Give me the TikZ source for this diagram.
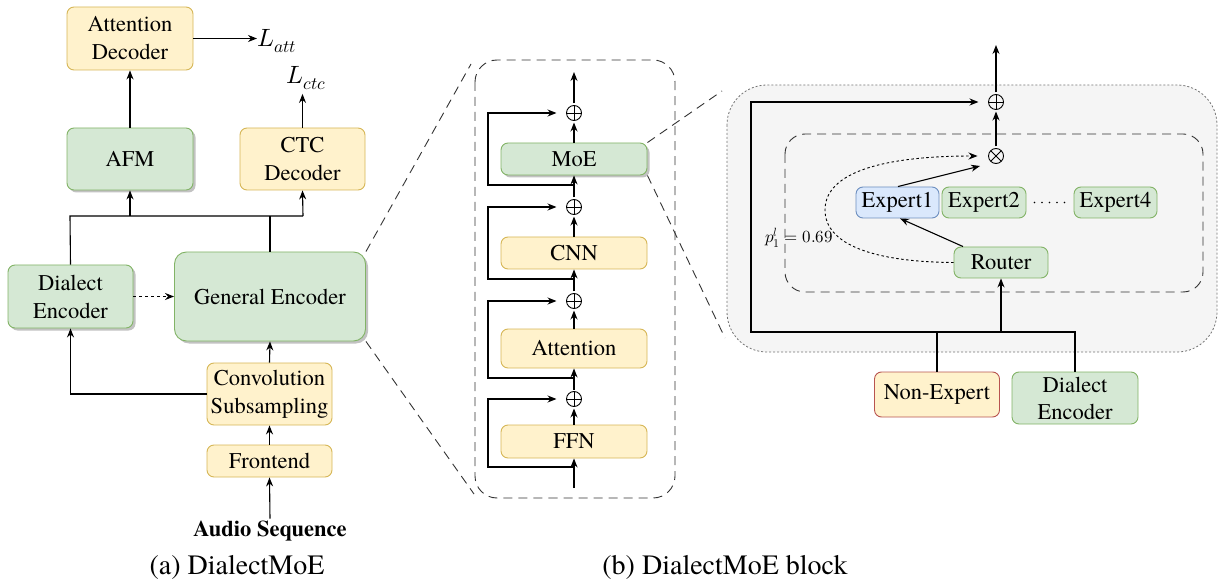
\documentclass[tikz,border=0pt]{standalone}
\usepackage{fontspec}
\setmainfont{TeX Gyre Termes}
\usepackage{unicode-math}
\setmathfont{Latin Modern Math}
\usetikzlibrary{arrows.meta,shadows,calc}
\definecolor{gfill}{HTML}{D5E8D4}\definecolor{gdraw}{HTML}{82B366}
\definecolor{yfill}{HTML}{FFF2CC}\definecolor{ydraw}{HTML}{D6B656}
\definecolor{bfill}{HTML}{DAE8FC}\definecolor{bdraw}{HTML}{6C8EBF}
\definecolor{rdraw}{HTML}{B85450}
\definecolor{panel}{HTML}{F5F5F5}
\begin{document}
\begin{tikzpicture}[x=1pt,y=-1pt,font=\rmfamily\fontsize{22.5}{28}\selectfont,
  box/.style={rounded corners=7pt,align=center,inner sep=0pt,line width=0.9pt},
  gbox/.style={box,fill=gfill,draw=gdraw},
  ybox/.style={box,fill=yfill,draw=ydraw},
  bbox/.style={box,fill=bfill,draw=bdraw},
  rbox/.style={box,fill=yfill,draw=rdraw},
  sh/.style={drop shadow={shadow xshift=2.5pt,shadow yshift=-2.5pt,fill=black!40,opacity=0.6}},
  arr/.style={line width=1.1pt,-{Stealth[length=9pt,width=7pt]}},
  ln/.style={line width=1.1pt},
  zl/.style={line width=0.9pt,black!80,dash pattern=on 9pt off 6pt},
  mathlab/.style={inner sep=0pt,font=\fontsize{25}{28}\selectfont},
  opl/.style={circle,draw,line width=0.9pt,minimum size=15pt,inner sep=0pt,outer sep=2pt,
    path picture={\draw[line width=0.9pt] (path picture bounding box.north) -- (path picture bounding box.south) (path picture bounding box.west) -- (path picture bounding box.east);}},
  otm/.style={circle,draw,line width=0.9pt,minimum size=15pt,inner sep=0pt,outer sep=2pt,
    path picture={\draw[line width=0.9pt] (path picture bounding box.center) ++(-8,-8) -- ++(16,16) (path picture bounding box.center) ++(-8,8) -- ++(16,-16);}}
]
\useasboundingbox (0,0) rectangle (1218,585);

% ---------------- (a) ----------------
\node[ybox,minimum width=126pt,minimum height=63pt] (attdec) at (130,38.5) {Attention\\Decoder};
\node[gbox,sh,minimum width=126pt,minimum height=62pt] (afm) at (130,159) {AFM};
\node[ybox,minimum width=125pt,minimum height=62pt] (ctc) at (302.5,159) {CTC\\Decoder};
\node[gbox,sh,minimum width=125pt,minimum height=63pt] (dialect) at (70.5,296.5) {Dialect\\Encoder};
\node[gbox,sh,minimum width=191pt,minimum height=89pt,rounded corners=12pt] (general) at (270,296.5) {General Encoder};
\node[ybox,minimum width=125pt,minimum height=62pt] (conv) at (269.5,394) {Convolution\\Subsampling};
\node[ybox,minimum width=125pt,minimum height=32pt] (frontend) at (269.5,461) {Frontend};
\node[font=\rmfamily\fontsize{22.5}{28}\selectfont\bfseries,inner sep=2pt] (audio) at (270,531) {Audio Sequence};
\node[mathlab,anchor=west] (latt) at (257,41) {$L_{att}$};
\node[mathlab] (lctc) at (306,78) {$L_{ctc}$};

\draw[arr] (attdec.east) -- (attdec.east -| latt.west);
\draw[arr] (afm.north) -- (attdec.south);
\draw[arr] (ctc.north) -- ([yshift=-4pt]lctc.south -| ctc.north);
\coordinate (bl) at (70,216);
\coordinate (br) at (303,216);
\draw[ln] (dialect.north) -- (bl) -- (br);
\draw[arr] (afm.south |- bl) -- (afm.south);
\draw[arr] (br) -- (ctc.south);
\draw[ln] (general.north) -- (general.north |- bl);
\draw[arr,dash pattern=on 3pt off 3pt] (dialect.east) -- (general.west);
\draw[arr] (conv.north) -- (general.south);
\draw[arr] (conv.west) -| (dialect.south);
\draw[arr] (frontend.north) -- (conv.south);
\draw[arr] (audio.north) -- (frontend.south);

\node[font=\rmfamily\fontsize{28}{32}\selectfont] (capa) at (237,567) {(a) DialectMoE};
\node[font=\rmfamily\fontsize{28}{32}\selectfont] (capb) at (725,567) {(b) DialectMoE block};

% ---------------- block ----------------
\draw[zl,rounded corners=22pt] (475,60) rectangle (675,498);
\node[gbox,sh,minimum width=146pt,minimum height=32pt] (moe) at (574,159) {MoE};
\node[ybox,minimum width=146pt,minimum height=32pt] (cnn) at (574,253) {CNN};
\node[ybox,minimum width=146pt,minimum height=39pt] (att) at (574,348.5) {Attention};
\node[ybox,minimum width=146pt,minimum height=33pt] (ffn) at (574,441.5) {FFN};
\node[opl] (op1) at (574,399) {};
\node[opl] (op2) at (574,301) {};
\node[opl] (op3) at (574,207) {};
\node[opl] (op4) at (574,113) {};
\coordinate (bin) at (574,488);
\coordinate (bout) at (574,72);
\coordinate (lx) at (488,0);
\coordinate (r1) at (574,467);
\coordinate (r2) at (574,378);
\coordinate (r3) at (574,279);
\coordinate (r4) at (574,185);
\draw[arr] (bin) -- (ffn.south);
\draw[arr] (ffn.north) -- (op1);
\draw[arr] (op1) -- (att.south);
\draw[arr] (att.north) -- (op2);
\draw[arr] (op2) -- (cnn.south);
\draw[arr] (cnn.north) -- (op3);
\draw[arr] (op3) -- (moe.south);
\draw[arr] (moe.north) -- (op4);
\draw[arr] (op4) -- (bout);
\draw[arr,shorten >=8pt] (r1) -| (lx |- op1) -- (op1);
\draw[arr,shorten >=8pt] (r2) -| (lx |- op2) -- (op2);
\draw[arr,shorten >=8pt] (r3) -| (lx |- op3) -- (op3);
\draw[arr,shorten >=8pt] (r4) -| (lx |- op4) -- (op4);

% zoom lines
\coordinate (zt1) at (471,64);
\coordinate (zb1) at (474,494);
\coordinate (zt2) at (722,91);
\coordinate (zb2) at (725,338);
\draw[zl] (general.north east) -- (zt1);
\draw[zl] (general.south east) -- (zb1);
\draw[zl] (moe.north east) -- (zt2);
\draw[zl] (moe.south east) -- (zb2);

% ---------------- MoE detail ----------------
\draw[fill=panel,draw=black!55,line width=0.8pt,dash pattern=on 2pt off 2pt,rounded corners=40pt] (727,85) rectangle (1217,352);
\draw[zl,rounded corners=20pt] (785,134) rectangle (1203,292);
\node[opl] (opR) at (996,102) {};
\node[otm] (otm) at (996,156) {};
\node[bbox,minimum width=83pt,minimum height=31pt] (e1) at (897.5,202.5) {Expert1};
\node[gbox,minimum width=84pt,minimum height=31pt] (e2) at (984,202.5) {Expert2};
\node[gbox,minimum width=83pt,minimum height=31pt] (e4) at (1115.5,202.5) {Expert4};
\node[gbox,minimum width=94pt,minimum height=31pt] (router) at (1001,262.5) {Router};
\node[rbox,minimum width=125pt,minimum height=45pt] (nonexp) at (937,394.5) {Non-Expert};
\node[gbox,minimum width=126pt,minimum height=52pt,font=\rmfamily\fontsize{22.5}{27}\selectfont] (dialR) at (1075,398) {Dialect\\Encoder};
\node[font=\rmfamily\fontsize{17}{20}\selectfont,inner sep=0pt] (plab) at (799,238) {$p_1^l = 0.69$};

\coordinate (rout) at (996,45);
\coordinate (bot) at (0,332);
\coordinate (lx2) at (751,0);
\draw[arr] (opR) -- (rout);
\draw[arr] (otm) -- (opR);
\draw[line width=1.6pt,line cap=round,dash pattern=on 0pt off 7.5pt] ([xshift=8pt]e2.east) -- ([xshift=-8pt]e4.west);
\draw[ln] (dialR.north) -- (dialR.north |- bot) -- (nonexp.north |- bot);
\draw[arr,line width=1.8pt,shorten >=8pt] (nonexp.north) -- (nonexp.north |- bot) -- (lx2 |- bot) -- (lx2 |- opR) -- (opR);
\draw[arr] (router.south |- bot) -- (router.south);
\draw[arr] ([xshift=-38pt]router.north) -- ([xshift=2.5pt]e1.south);
\draw[arr] ([xshift=0.5pt]e1.north) -- ($(otm)+(-16,10)$);
\draw[line width=0.9pt,dash pattern=on 2.5pt off 2.5pt,-{Stealth[length=9pt,width=7pt]}]
  (router.west) .. controls (875,262) and (825,245) .. (825,210)
  .. controls (825,170) and (890,156) .. ($(otm.west)+(-9,0)$);
\end{tikzpicture}
\end{document}
